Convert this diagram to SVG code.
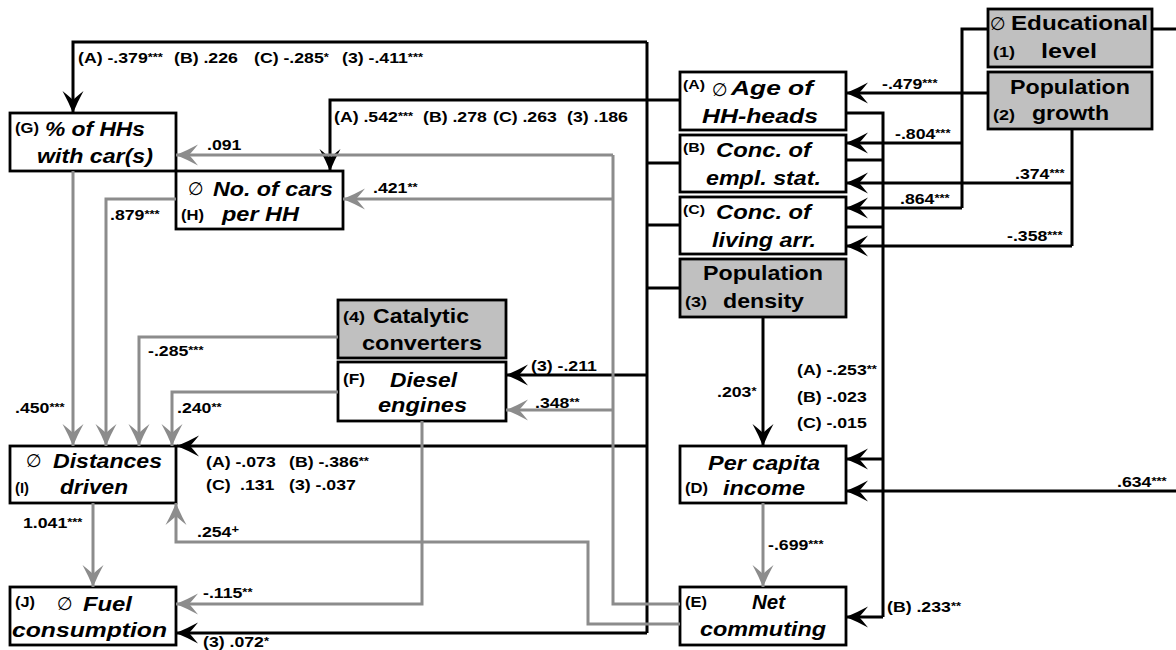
<svg xmlns="http://www.w3.org/2000/svg" width="1176" height="650" viewBox="0 0 1176 650">
<style>
.box{fill:#fff;stroke:#000;stroke-width:2.8}
.gbox{fill:#c0c0c0;stroke:#000;stroke-width:2.8}
text{font-family:"Liberation Sans",Arial,sans-serif;font-weight:bold;fill:#000}
.t{font-style:italic;font-size:21px}
.tn{font-size:21px}
.tag{font-size:14px}
.tg{font-size:13px}
.c{font-size:15px}
.s{font-size:11px}
.sym{font-family:"DejaVu Sans",sans-serif;font-weight:normal;font-size:18px}
.k{stroke:#000;stroke-width:3;fill:none}
.g{stroke:#8c8c8c;stroke-width:3;fill:none}
.ka{stroke:#000;stroke-width:3;fill:none;marker-end:url(#ak)}
.ga{stroke:#8c8c8c;stroke-width:3;fill:none;marker-end:url(#ag)}
</style>
<defs>
<marker id="ak" markerUnits="userSpaceOnUse" markerWidth="26" markerHeight="26" refX="24" refY="12" orient="auto"><path d="M24,12 Q13,7.5 2,1.5 Q8,9 11,12 Q8,15 2,22.5 Q13,16.5 24,12 Z" fill="#000"/></marker>
<marker id="ag" markerUnits="userSpaceOnUse" markerWidth="26" markerHeight="26" refX="24" refY="12" orient="auto"><path d="M24,12 Q13,7.5 2,1.5 Q8,9 11,12 Q8,15 2,22.5 Q13,16.5 24,12 Z" fill="#8c8c8c"/></marker>
</defs>
<rect width="1176" height="650" fill="#fff"/>

<g id="node-G">
<rect class="box" x="10" y="113" width="166" height="58"/>
<text class="tag" x="15" y="133" textLength="24" lengthAdjust="spacingAndGlyphs">(G)</text>
<text class="t" x="45" y="136" textLength="100" lengthAdjust="spacingAndGlyphs">% of HHs</text>
<text class="t" x="37" y="163" textLength="116" lengthAdjust="spacingAndGlyphs">with car(s)</text>
</g>
<g id="node-H">
<rect class="box" x="176" y="171" width="167" height="58"/>
<text class="sym" x="188" y="195">∅</text>
<text class="t" x="213" y="196" textLength="120" lengthAdjust="spacingAndGlyphs">No. of cars</text>
<text class="tag" x="181" y="220" textLength="23" lengthAdjust="spacingAndGlyphs">(H)</text>
<text class="t" x="222" y="221" textLength="77" lengthAdjust="spacingAndGlyphs">per HH</text>
</g>
<g id="node-A">
<rect class="box" x="680" y="72" width="166" height="58"/>
<text class="tg" x="683" y="89" textLength="22" lengthAdjust="spacingAndGlyphs">(A)</text>
<text class="sym" x="712" y="96">∅</text>
<text class="t" x="731" y="95" textLength="82" lengthAdjust="spacingAndGlyphs">Age of</text>
<text class="t" x="702" y="123" textLength="116" lengthAdjust="spacingAndGlyphs">HH-heads</text>
</g>
<g id="node-B">
<rect class="box" x="680" y="135" width="166" height="57"/>
<text class="tg" x="683" y="152" textLength="22" lengthAdjust="spacingAndGlyphs">(B)</text>
<text class="t" x="716" y="157" textLength="95" lengthAdjust="spacingAndGlyphs">Conc. of</text>
<text class="t" x="706" y="185" textLength="115" lengthAdjust="spacingAndGlyphs">empl. stat.</text>
</g>
<g id="node-C">
<rect class="box" x="680" y="197" width="166" height="57"/>
<text class="tg" x="683" y="214" textLength="22" lengthAdjust="spacingAndGlyphs">(C)</text>
<text class="t" x="716" y="219" textLength="95" lengthAdjust="spacingAndGlyphs">Conc. of</text>
<text class="t" x="712" y="247" textLength="104" lengthAdjust="spacingAndGlyphs">living arr.</text>
</g>
<g id="node-3">
<rect class="gbox" x="680" y="259" width="166" height="58"/>
<text class="tn" x="703" y="280" textLength="120" lengthAdjust="spacingAndGlyphs">Population</text>
<text class="tag" x="685" y="307" textLength="22" lengthAdjust="spacingAndGlyphs">(3)</text>
<text class="tn" x="723" y="308" textLength="81" lengthAdjust="spacingAndGlyphs">density</text>
</g>
<g id="node-1">
<rect class="gbox" x="988" y="9" width="164" height="58"/>
<text class="sym" x="990" y="30">∅</text>
<text class="tn" x="1011" y="30" textLength="137" lengthAdjust="spacingAndGlyphs">Educational</text>
<text class="tag" x="993" y="57" textLength="22" lengthAdjust="spacingAndGlyphs">(1)</text>
<text class="tn" x="1041" y="58" textLength="56" lengthAdjust="spacingAndGlyphs">level</text>
</g>
<g id="node-2">
<rect class="gbox" x="988" y="72" width="164" height="57"/>
<text class="tn" x="1010" y="94" textLength="120" lengthAdjust="spacingAndGlyphs">Population</text>
<text class="tag" x="993" y="120" textLength="22" lengthAdjust="spacingAndGlyphs">(2)</text>
<text class="tn" x="1032" y="120" textLength="77" lengthAdjust="spacingAndGlyphs">growth</text>
</g>
<g id="node-4">
<rect class="gbox" x="338" y="300" width="168" height="58"/>
<text class="tag" x="343" y="322" textLength="22" lengthAdjust="spacingAndGlyphs">(4)</text>
<text class="tn" x="373" y="323" textLength="96" lengthAdjust="spacingAndGlyphs">Catalytic</text>
<text class="tn" x="362" y="350" textLength="120" lengthAdjust="spacingAndGlyphs">converters</text>
</g>
<g id="node-F">
<rect class="box" x="338" y="362" width="168" height="59"/>
<text class="tag" x="343" y="384" textLength="22" lengthAdjust="spacingAndGlyphs">(F)</text>
<text class="t" x="390" y="387" textLength="67" lengthAdjust="spacingAndGlyphs">Diesel</text>
<text class="t" x="378" y="412" textLength="89" lengthAdjust="spacingAndGlyphs">engines</text>
</g>
<g id="node-I">
<rect class="box" x="10" y="446" width="166" height="57"/>
<text class="sym" x="26" y="467">∅</text>
<text class="t" x="53" y="468" textLength="109" lengthAdjust="spacingAndGlyphs">Distances</text>
<text class="tag" x="15" y="493" textLength="14" lengthAdjust="spacingAndGlyphs">(I)</text>
<text class="t" x="60" y="494" textLength="68" lengthAdjust="spacingAndGlyphs">driven</text>
</g>
<g id="node-J">
<rect class="box" x="10" y="587" width="166" height="58"/>
<text class="tag" x="15" y="607" textLength="20" lengthAdjust="spacingAndGlyphs">(J)</text>
<text class="sym" x="57" y="610">∅</text>
<text class="t" x="83" y="611" textLength="49" lengthAdjust="spacingAndGlyphs">Fuel</text>
<text class="t" x="12" y="637" textLength="155" lengthAdjust="spacingAndGlyphs">consumption</text>
</g>
<g id="node-D">
<rect class="box" x="680" y="446" width="166" height="57"/>
<text class="t" x="708" y="470" textLength="112" lengthAdjust="spacingAndGlyphs">Per capita</text>
<text class="tag" x="685" y="493" textLength="23" lengthAdjust="spacingAndGlyphs">(D)</text>
<text class="t" x="723" y="495" textLength="82" lengthAdjust="spacingAndGlyphs">income</text>
</g>
<g id="node-E">
<rect class="box" x="680" y="587" width="166" height="58"/>
<text class="tag" x="685" y="607" textLength="22" lengthAdjust="spacingAndGlyphs">(E)</text>
<text class="t" x="752" y="609" textLength="33" lengthAdjust="spacingAndGlyphs">Net</text>
<text class="t" x="700" y="636" textLength="126" lengthAdjust="spacingAndGlyphs">commuting</text>
</g>

<g id="connectors">
<path class="k" d="M647,42 V633"/>
<path class="ka" d="M647,42 H73 V113"/>
<path class="ka" d="M680,100 H330 V171"/>
<path class="k" d="M647,163 H680 M647,225 H680 M647,288 H680"/>
<path class="ka" d="M647,375 H506"/>
<path class="ka" d="M647,446 H177"/>
<path class="ka" d="M647,633 H176"/>
<path class="k" d="M988,29 H962 V208"/>
<path class="ka" d="M962,143 H846"/>
<path class="ka" d="M962,208 H846"/>
<path class="k" d="M1152,29 H1176"/>
<path class="ka" d="M988,93 H846"/>
<path class="k" d="M1072,129 V246"/>
<path class="ka" d="M1072,183 H846"/>
<path class="ka" d="M1072,246 H846"/>
<path class="k" d="M846,113 H883 V617 M846,160 H883 M846,227 H883"/>
<path class="ka" d="M883,459 H846"/>
<path class="ka" d="M883,617 H846"/>
<path class="ka" d="M1176,491 H846"/>
<path class="ka" d="M763,317 V446"/>
<path class="g" d="M680,604 H613 V155"/>
<path class="ga" d="M613,155 H176"/>
<path class="ga" d="M613,199 H343"/>
<path class="ga" d="M613,410 H506"/>
<path class="ga" d="M680,624 H588 V542 H176 V503"/>
<path class="ga" d="M422,421 V604 H176"/>
<path class="ga" d="M338,392 H172 V446"/>
<path class="ga" d="M338,337 H139 V446"/>
<path class="ga" d="M176,199 H106 V446"/>
<path class="ga" d="M73,171 V446"/>
<path class="ga" d="M93,503 V587"/>
<path class="ga" d="M763,503 V587"/>
</g>

<g id="labels">
<text class="c" transform="translate(78,63) scale(1.18,1)">(A) -.379<tspan class="s" dy="-2">***</tspan></text>
<text class="c" transform="translate(174,63) scale(1.18,1)">(B) .226</text>
<text class="c" transform="translate(254,63) scale(1.18,1)">(C) -.285<tspan class="s" dy="-2">*</tspan></text>
<text class="c" transform="translate(342,63) scale(1.18,1)">(3) -.411<tspan class="s" dy="-2">***</tspan></text>
<text class="c" transform="translate(334,122) scale(1.18,1)">(A) .542<tspan class="s" dy="-2">***</tspan></text>
<text class="c" transform="translate(423,122) scale(1.18,1)">(B) .278</text>
<text class="c" transform="translate(493,122) scale(1.18,1)">(C) .263</text>
<text class="c" transform="translate(567,122) scale(1.18,1)">(3) .186</text>
<text class="c" transform="translate(207,150) scale(1.18,1)">.091</text>
<text class="c" transform="translate(373,193) scale(1.18,1)">.421<tspan class="s" dy="-2">**</tspan></text>
<text class="c" transform="translate(110,220) scale(1.18,1)">.879<tspan class="s" dy="-2">***</tspan></text>
<text class="c" transform="translate(15,413) scale(1.18,1)">.450<tspan class="s" dy="-2">***</tspan></text>
<text class="c" transform="translate(148,356) scale(1.18,1)">-.285<tspan class="s" dy="-2">***</tspan></text>
<text class="c" transform="translate(177,413) scale(1.18,1)">.240<tspan class="s" dy="-2">**</tspan></text>
<text class="c" transform="translate(531,371) scale(1.18,1)">(3) -.211</text>
<text class="c" transform="translate(535,408) scale(1.18,1)">.348<tspan class="s" dy="-2">**</tspan></text>
<text class="c" transform="translate(717,397) scale(1.18,1)">.203<tspan class="s" dy="-2">*</tspan></text>
<text class="c" transform="translate(797,375) scale(1.18,1)">(A) -.253<tspan class="s" dy="-2">**</tspan></text>
<text class="c" transform="translate(797,402) scale(1.18,1)">(B) -.023</text>
<text class="c" transform="translate(797,428) scale(1.18,1)">(C) -.015</text>
<text class="c" transform="translate(206,467) scale(1.18,1)">(A) -.073</text>
<text class="c" transform="translate(289,467) scale(1.18,1)">(B) -.386<tspan class="s" dy="-2">**</tspan></text>
<text class="c" transform="translate(206,490) scale(1.18,1)">(C)</text>
<text class="c" transform="translate(240,490) scale(1.18,1)">.131</text>
<text class="c" transform="translate(289,490) scale(1.18,1)">(3) -.037</text>
<text class="c" transform="translate(197,537) scale(1.18,1)">.254<tspan class="s" dy="-4">+</tspan></text>
<text class="c" transform="translate(23,528) scale(1.18,1)">1.041<tspan class="s" dy="-2">***</tspan></text>
<text class="c" transform="translate(203,598) scale(1.18,1)">-.115<tspan class="s" dy="-2">**</tspan></text>
<text class="c" transform="translate(203,647) scale(1.18,1)">(3) .072<tspan class="s" dy="-2">*</tspan></text>
<text class="c" transform="translate(768,550) scale(1.18,1)">-.699<tspan class="s" dy="-2">***</tspan></text>
<text class="c" transform="translate(887,612) scale(1.18,1)">(B) .233<tspan class="s" dy="-2">**</tspan></text>
<text class="c" transform="translate(1117,487) scale(1.18,1)">.634<tspan class="s" dy="-2">***</tspan></text>
<text class="c" transform="translate(882,89) scale(1.18,1)">-.479<tspan class="s" dy="-2">***</tspan></text>
<text class="c" transform="translate(895,139) scale(1.18,1)">-.804<tspan class="s" dy="-2">***</tspan></text>
<text class="c" transform="translate(1015,179) scale(1.18,1)">.374<tspan class="s" dy="-2">***</tspan></text>
<text class="c" transform="translate(900,204) scale(1.18,1)">.864<tspan class="s" dy="-2">***</tspan></text>
<text class="c" transform="translate(1007,241) scale(1.18,1)">-.358<tspan class="s" dy="-2">***</tspan></text>
</g>
</svg>
